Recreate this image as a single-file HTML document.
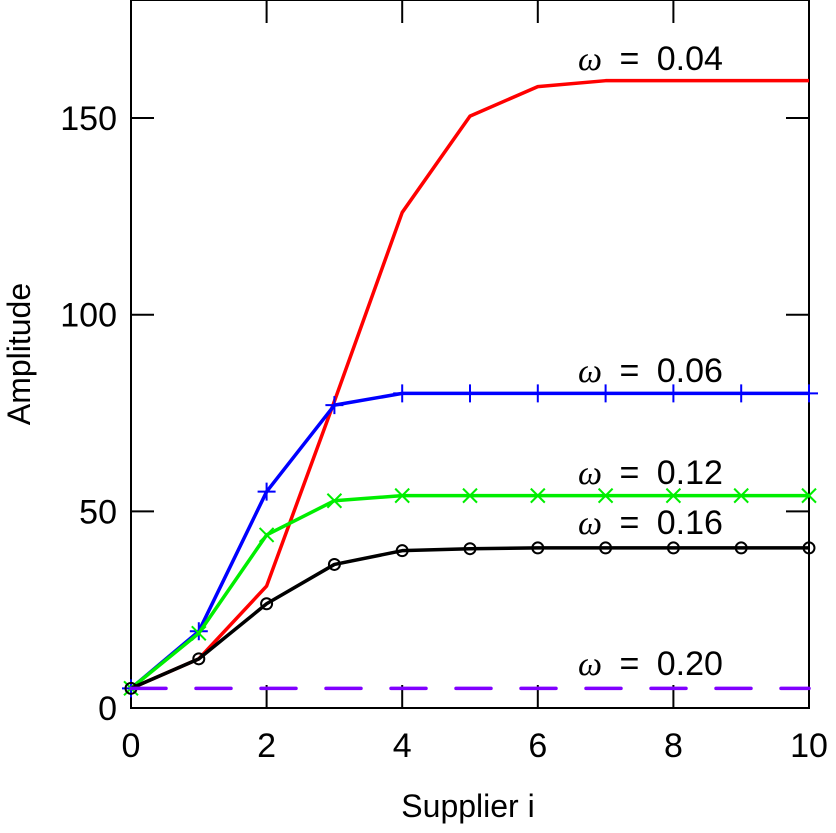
<!DOCTYPE html>
<html><head><meta charset="utf-8"><style>
body{margin:0;background:#fff;}
svg{display:block;font-family:"Liberation Sans",sans-serif;}
</style></head><body>
<svg id="c" width="836" height="833">
<rect x="131" y="0" width="678" height="708" fill="none" stroke="#000" stroke-width="2"/>
<g id="ticks"></g><g id="lines"></g><g id="labels"></g>
<text x="468" y="817" font-size="32" text-anchor="middle">Supplier i</text>
<text transform="translate(30,354) rotate(-90)" font-size="32" text-anchor="middle">Amplitude</text>
</svg>
<script>
const xs=[0,1,2,3,4,5,6,7,8,9,10];
const red=[5,12.5,31,78,126,150.5,158,159.5,159.5,159.5,159.5];
const blue=[5,19.5,55,77,80,80,80,80,80,80,80];
const green=[5,19,44,52.7,54,54,54,54,54,54,54];
const black=[5,12.5,26.5,36.5,40,40.5,40.7,40.7,40.7,40.7,40.7];
const purple=[5,5,5,5,5,5,5,5,5,5,5];
const xTicks=[0,2,4,6,8,10];
const yTicks=[0,50,100,150];
const labelTexts=["0.04","0.06","0.12","0.16","0.20"];
const labelVals=[165.3,85.9,60,47.3,11.4];
const NS="http://www.w3.org/2000/svg";
const X=v=>131+v*67.8, Y=v=>708-v*3.933;
function mk(t,a,p){const e=document.createElementNS(NS,t);for(const k in a)e.setAttribute(k,a[k]);p.appendChild(e);return e;}
const tk=document.getElementById('ticks');
xTicks.forEach(v=>{
 const l=mk('line',{x1:X(v),x2:X(v),y1:708,y2:685,stroke:'#000','stroke-width':2},tk);
 
 
 mk('line',{x1:X(v),x2:X(v),y1:0,y2:23,stroke:'#000','stroke-width':2},tk);
 const t=mk('text',{x:X(v),y:757,'font-size':34,'text-anchor':'middle'},tk);t.textContent=v;
 
 
});
yTicks.forEach(v=>{
 mk('line',{x1:131,x2:154,y1:Y(v),y2:Y(v),stroke:'#000','stroke-width':2},tk);
 mk('line',{x1:786,x2:809,y1:Y(v),y2:Y(v),stroke:'#000','stroke-width':2},tk);
 const t=mk('text',{x:117,y:Y(v)+12,'font-size':34,'text-anchor':'end'},tk);t.textContent=v;
 
 
});
const lg=document.getElementById('lines');
function series(arr,color,name,marker,dash){
 const g=mk('g',{},lg);
 
 
 const pts=xs.map((x,i)=>X(x)+','+Y(arr[i])).join(' ');
 const a={points:pts,fill:'none',stroke:color,'stroke-width':3.5,'stroke-linejoin':'round'};
 if(dash){a['stroke-dasharray']='35 30';a['stroke-linecap']='round';}
 mk('polyline',a,g);
 xs.forEach((x,i)=>{
  const cx=X(x),cy=Y(arr[i]);
  if(marker==='plus'){mk('path',{d:`M${cx-9},${cy}h18M${cx},${cy-9}v18`,stroke:color,'stroke-width':2},g);}
  if(marker==='star'){mk('path',{d:`M${cx-7},${cy-7}l14,14M${cx-7},${cy+7}l14,-14`,stroke:color,'stroke-width':2},g);}
  if(marker==='circle'){mk('circle',{cx:cx,cy:cy,r:5.5,fill:'none',stroke:color,'stroke-width':2},g);}
 });
}
series(red,'#ff0000','series-omega-0.04',null);
series(blue,'#0000ff','series-omega-0.06','plus');
series(green,'#00ee00','series-omega-0.12','star');
series(black,'#000000','series-omega-0.16','circle');
series(purple,'#8000ff','series-omega-0.20',null,true);
const lb=document.getElementById('labels');
labelTexts.forEach((s,i)=>{
 const t=mk('text',{x:578,y:Y(labelVals[i])+12,'font-size':34,'word-spacing':8},lb);
 t.innerHTML='<tspan font-style="italic" font-family="Liberation Serif, serif">ω</tspan> = '+s;
 
 
});
</script>
</body></html>
